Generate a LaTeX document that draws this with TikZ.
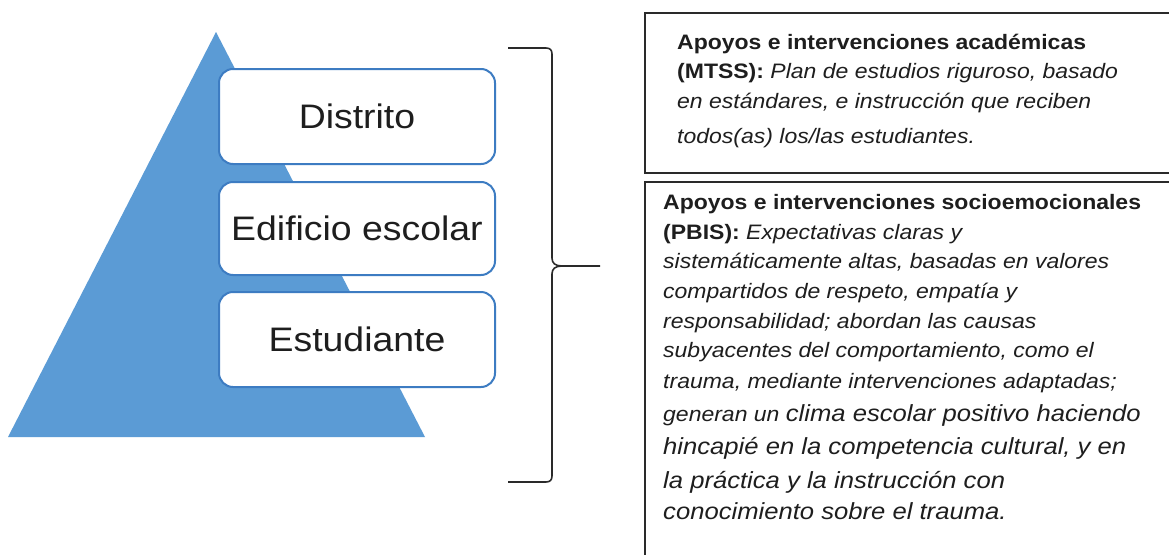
\documentclass[tikz,border=0pt]{standalone}
\usepackage{fontspec}
\setmainfont{Liberation Sans}[FakeStretch=1.1]
\definecolor{pyr}{HTML}{5B9BD5}
\definecolor{pbox}{HTML}{3D7CC2}
\definecolor{ink}{HTML}{1E1E1E}
\definecolor{frame}{HTML}{2A2A2A}
\tikzset{
  level/.style={draw=pbox, line width=2pt, fill=white, rounded corners=14pt,
    minimum width=276pt, inner sep=0pt, text=ink, font=\fontsize{34}{40}\selectfont},
  infobox/.style={draw=frame, line width=2.2pt, minimum width=540pt, inner sep=0pt},
  txt/.style={anchor=base west, inner sep=0pt, text=ink, font=\fontsize{20.9}{25}\selectfont},
  txtbig/.style={txt, font=\fontsize{23.3}{28}\selectfont},
  bracestroke/.style={draw=frame, line width=1.6pt}
}
\newcommand{\bigit}{\fontsize{23.3}{28}\selectfont\itshape}
\begin{document}
\begin{tikzpicture}[x=1pt, y=-1pt]
\clip (0,0) rectangle (1169,554);
\fill[white] (0,0) rectangle (1169,554);
% pyramid
\fill[pyr] (216,32) -- (425,437) -- (8,437) -- cycle;
\node[level, minimum height=95pt] (distrito) at (357,116.5) {Distrito};
\node[level, minimum height=93pt] (edificio) at (357,228.5) {Edificio escolar};
\node[level, minimum height=95pt] (estudiante) at (357,339.5) {Estudiante};
% brace
\coordinate (btop) at (508,48);
\coordinate (bbot) at (508,482);
\coordinate (btip) at (600,266);
\draw[bracestroke] (btop) -- (546,48) .. controls (550,48) and (552,50) .. (552,54)
  -- (552,258) .. controls (552,263) and (555,266) .. (562,266) -- (btip);
\draw[bracestroke] (562,266) .. controls (555,266) and (552,269) .. (552,274)
  -- (552,476) .. controls (552,480) and (550,482) .. (546,482) -- (bbot);
% right boxes
\node[infobox, minimum height=160pt] (mtssbox) at (915,93) {};
\node[infobox, minimum height=388pt] (pbisbox) at (915,376) {};
% box 1 text
\node[txt] (m1) at (677,49) {\bfseries Apoyos e intervenciones académicas};
\node[txt] (m2) at (677,78) {\bfseries (MTSS): \mdseries\itshape Plan de estudios riguroso, basado};
\node[txt] (m3) at (677,108) {\itshape en estándares, e instrucción que reciben};
\node[txt] (m4) at (677,143) {\itshape todos(as) los/las estudiantes.};
% box 2 text
\node[txt] (p1) at (663,209) {\bfseries Apoyos e intervenciones socioemocionales};
\node[txt] (p2) at (663,239) {\bfseries (PBIS): \mdseries\itshape Expectativas claras y};
\node[txt] (p3) at (663,268) {\itshape sistemáticamente altas, basadas en valores};
\node[txt] (p4) at (663,298) {\itshape compartidos de respeto, empatía y};
\node[txt] (p5) at (663,328) {\itshape responsabilidad; abordan las causas};
\node[txt] (p6) at (663,357) {\itshape subyacentes del comportamiento, como el};
\node[txt] (p7) at (663,388) {\itshape trauma, mediante intervenciones adaptadas;};
\node[txt] (p8) at (663,421) {\itshape generan un {\bigit clima escolar positivo haciendo}};
\node[txtbig] (p9) at (663,454) {\itshape hincapié en la competencia cultural, y en};
\node[txtbig] (p10) at (663,488) {\itshape la práctica y la instrucción con};
\node[txtbig] (p11) at (663,519) {\itshape conocimiento sobre el trauma.};
\end{tikzpicture}
\end{document}
